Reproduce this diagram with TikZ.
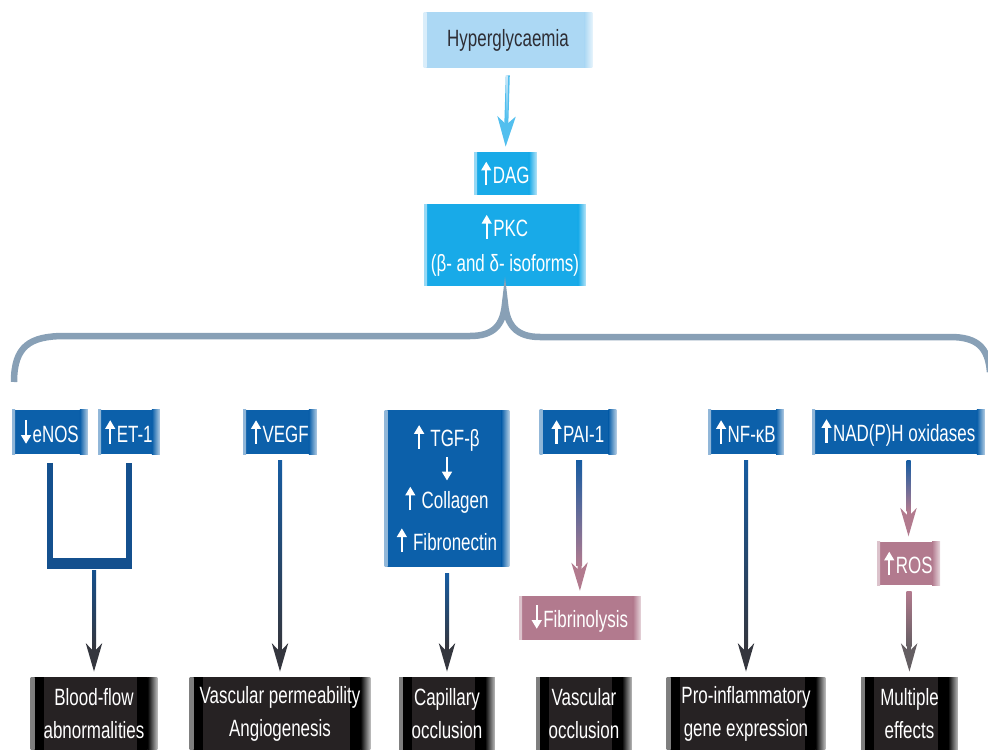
\documentclass[tikz,border=0pt]{standalone}
\usepackage{fontspec}
\setmainfont{Liberation Sans}[FakeStretch=0.72]
\usepackage{tikz}
\usetikzlibrary{calc,arrows.meta}

\definecolor{hyperblue}{RGB}{172,216,244}
\definecolor{hypertext}{RGB}{45,45,52}
\definecolor{pkcblue}{RGB}{24,170,232}
\definecolor{nodeblue}{RGB}{12,96,170}
\definecolor{linkblue}{RGB}{22,92,162}
\definecolor{ublue}{RGB}{20,80,142}
\definecolor{rospink}{RGB}{178,122,142}
\definecolor{darkbody}{RGB}{38,34,35}
\definecolor{tipgray}{RGB}{52,54,62}
\definecolor{rosgray}{RGB}{100,94,98}
\definecolor{bracegray}{RGB}{136,160,182}

\newcommand{\labelfont}{\fontsize{13.4}{18.7}\selectfont}
% small white up and down marks in the labels
\newcommand{\upmark}{\tikz[baseline=0pt]\draw[white, line width=1.3pt, -{Triangle[length=5pt, width=5.5pt]}] (0pt,-1pt) -- (0pt,12.5pt);\hspace{1pt}}
\newcommand{\downmark}{\tikz[baseline=0pt]\draw[white, line width=1.3pt, -{Triangle[length=5pt, width=5.5pt]}] (0pt,12.5pt) -- (0pt,-1pt);\hspace{1pt}}
% shaded connector: from, to, top colour, bottom colour
\newcommand{\fadelink}[4]{%
	\draw[link, #4] (#1) -- (#2);
	\shade[top color=#3, bottom color=#4] ($(#1)+(-2,6)$) rectangle ($(#2)+(2,-30)$);
}

\begin{document}
\begin{tikzpicture}[x=0.02cm, y=-0.02cm,
	box/.style={inner sep=0pt, text=white, font=\labelfont, align=center},
	edges/.style={path picture={
		\shade[left color=#1!45, right color=#1] (path picture bounding box.south west) rectangle ([xshift=0.06cm]path picture bounding box.north west);
		\shade[left color=#1, right color=#1!30] ([xshift=-0.16cm]path picture bounding box.south east) rectangle (path picture bounding box.north east);}},
	hyperbox/.style={box, fill=hyperblue, edges=hyperblue, text=hypertext, minimum width=3.38cm, minimum height=1.12cm},
	pkcbox/.style={box, fill=pkcblue, edges=pkcblue},
	bluebox/.style={box, fill=nodeblue, edges=nodeblue, minimum height=0.9cm},
	pinkbox/.style={box, fill=rospink, edges=rospink, minimum height=0.87cm},
	darkbox/.style={box, fill=darkbody, minimum height=1.46cm, path picture={
		\shade[left color=gray, right color=black] (path picture bounding box.south west) rectangle ([xshift=0.08cm]path picture bounding box.north west);
		\fill[black] ([xshift=0.08cm]path picture bounding box.south west) rectangle ([xshift=0.26cm]path picture bounding box.north west);
		\fill[black] ([xshift=-0.4cm]path picture bounding box.south east) rectangle ([xshift=-0.2cm]path picture bounding box.north east);
		\shade[left color=black, right color=white!75!black] ([xshift=-0.2cm]path picture bounding box.south east) rectangle (path picture bounding box.north east);}},
	link/.style={line width=0.08cm, shorten <=0.12cm, shorten >=0.1cm, -{Stealth[length=0.56cm, width=0.32cm, inset=0.16cm]}},
	ulink/.style={line width=0.11cm, ublue},
	brace/.style={line width=0.13cm, bracegray}]
\useasboundingbox (0,0) rectangle (988,750);

% top of the chain
	\node[hyperbox] (hyper) at (508,40) {Hyperglycaemia};
	\node[pkcbox, minimum width=1.26cm, minimum height=0.86cm] (dag) at (505.5,173.5) {\upmark DAG};
	\node[pkcbox, minimum width=3.24cm, minimum height=1.64cm] (pkc) at (505,245) {\upmark PKC\\[1pt](β- and δ- isoforms)};

	\draw[line width=0.08cm, shorten <=0.14cm, shorten >=0.1cm, color=pkcblue!75!white,
		-{Stealth[length=0.6cm, width=0.36cm, inset=0.16cm]}] (hyper.south) -- (dag.north);
	\shade[top color=hyperblue!60!white, bottom color=pkcblue!75!white] ($(hyper.south)+(-2,7)$) rectangle ($(dag.north)+(2,-32)$);

% the brace
	\draw[brace] (14,382) .. controls (14,346) and (30,336) .. (65,336) -- (470,336)
		.. controls (494,336) and (503,325) .. (505,304)
		.. controls (507,325) and (516,337) .. (540,337) -- (950,337)
		.. controls (978,337) and (988,348) .. (990,372);

% the mediators
	\node[bluebox, minimum width=1.52cm] (enos) at (50,432) {\downmark eNOS};
	\node[bluebox, minimum width=1.24cm] (et1) at (129,432) {\upmark ET-1};
	\node[bluebox, minimum width=1.48cm] (vegf) at (280,432) {\upmark VEGF};
	\node[bluebox, minimum width=2.5cm, minimum height=3.14cm] (tgf) at (447,488.5)
		{\upmark\ TGF-β\\[-0.6pt]\downmark\\[-1.7pt]\upmark\ Collagen\\[5pt]\upmark\ Fibronectin};
	\node[bluebox, minimum width=1.54cm] (pai) at (578,432) {\upmark PAI-1};
	\node[bluebox, minimum width=1.52cm] (nfkb) at (746,432) {\upmark NF-κB};
	\node[bluebox, minimum width=3.46cm] (nadph) at (898.5,432) {\upmark NAD(P)H oxidases};

	\node[pinkbox, minimum width=2.44cm] (fibrin) at (580,618) {\downmark Fibrinolysis};
	\node[pinkbox, minimum width=1.26cm] (ros) at (908.5,563.5) {\upmark ROS};

% the outcomes
	\node[darkbox, minimum width=2.54cm] (blood) at (94,713.5) {Blood-flow\\abnormalities};
	\node[darkbox, minimum width=3.62cm] (vp) at (280,713.5) {Vascular permeability\\Angiogenesis};
	\node[darkbox, minimum width=1.92cm] (cap) at (447,713.5) {Capillary\\occlusion};
	\node[darkbox, minimum width=1.92cm] (vocc) at (584,713.5) {Vascular\\occlusion};
	\node[darkbox, minimum width=3.18cm] (proinf) at (746,713.5) {Pro-inflammatory\\gene expression};
	\node[darkbox, minimum width=1.94cm] (multi) at (909.5,713.5) {Multiple\\effects};

% connectors
	\coordinate (ubar) at (blood.north |- 0,564);
	\draw[ulink] ($(enos.south)+(0,8)$) |- ($(et1.south)+(0,110)$) -- ($(et1.south)+(0,8)$);
	\fill[ublue] ($(enos.south)+(-2.75,103)$) rectangle ($(et1.south)+(2.75,114)$);
	\fadelink{ubar}{blood.north}{ublue}{tipgray}
	\fadelink{vegf.south}{vp.north}{linkblue}{tipgray}
	\fadelink{tgf.south}{cap.north}{linkblue}{tipgray}
	\fadelink{pai.south}{fibrin.north}{linkblue}{rospink}
	\fadelink{nfkb.south}{proinf.north}{linkblue}{tipgray}
	\fadelink{ros |- nadph.south}{ros.north}{linkblue}{rospink}
	\fadelink{ros.south}{multi.north}{rospink}{rosgray}
\end{tikzpicture}
\end{document}
